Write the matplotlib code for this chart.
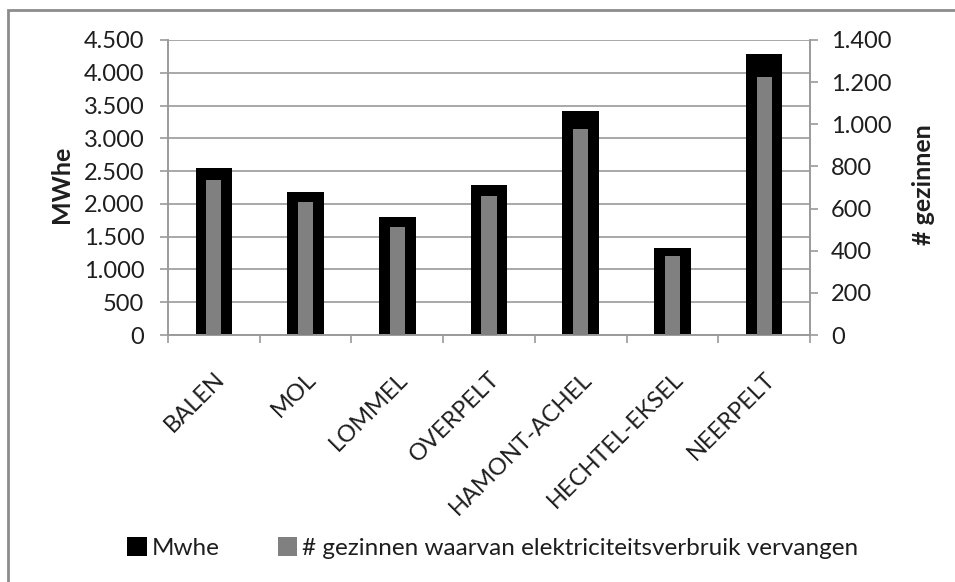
import numpy as np
import matplotlib
matplotlib.use("Agg")
import matplotlib.pyplot as plt
from matplotlib.patches import Rectangle
from matplotlib.ticker import FuncFormatter, MultipleLocator

plt.rcParams['font.family'] = ['Lato', 'DejaVu Sans']

# ── Data ──────────────────────────────────────────────────────────────────────
gemeenten = ['BALEN', 'MOL', 'LOMMEL', 'OVERPELT', 'HAMONT-ACHEL',
             'HECHTEL-EKSEL', 'NEERPELT']
mwhe = [2550, 2175, 1795, 2295, 3415, 1320, 4285]
gezinnen = [735, 630, 512, 661, 978, 376, 1224]

# ── Style ─────────────────────────────────────────────────────────────────────
grid_col = '#9a9a9a'
text_col = '#1e1e1e'
fs = 17


def dotted(v, pos):
    # thousands separator as a dot
    return f'{int(v):,}'.replace(',', '.')


fig = plt.figure(figsize=(9.55, 5.82), dpi=100)
ax = fig.add_axes([168 / 955, 1 - 335 / 582, 642 / 955, 295 / 582])
ax2 = ax.twinx()

x = np.arange(len(gemeenten))
ax.bar(x, mwhe, width=0.40, color='black', zorder=2, label='Mwhe')
ax2.bar(x, gezinnen, width=0.165, color='#808080', zorder=3,
        label='# gezinnen waarvan elektriciteitsverbruik vervangen')

ax.set_xlim(-0.5, len(gemeenten) - 0.5)
ax.set_ylim(0, 4500)
ax2.set_ylim(0, 1400)
ax.yaxis.set_major_locator(MultipleLocator(500))
ax2.yaxis.set_major_locator(MultipleLocator(200))
ax.yaxis.set_major_formatter(FuncFormatter(dotted))
ax2.yaxis.set_major_formatter(FuncFormatter(dotted))

ax.set_axisbelow(True)
ax.grid(axis='y', color=grid_col, linewidth=1.2)

for a in (ax, ax2):
    a.spines['top'].set_visible(False)
    for side in ('left', 'right', 'bottom'):
        a.spines[side].set_color(grid_col)
        a.spines[side].set_linewidth(1.2)

ax.tick_params(axis='y', direction='out', length=6, width=1.2, color=grid_col,
               pad=11, labelsize=fs, labelcolor=text_col)
ax2.tick_params(axis='y', direction='out', length=6, width=1.2, color=grid_col,
                pad=9, labelsize=fs, labelcolor=text_col)

# category labels in the middle, tick marks on the boundaries
ax.set_xticks(x)
ax.set_xticklabels(gemeenten, rotation=45, ha='right', va='top',
                   rotation_mode='anchor', fontsize=fs, color=text_col)
ax.set_xticks(np.arange(len(gemeenten) + 1) - 0.5, minor=True)
ax.tick_params(axis='x', which='major', length=0, pad=24)
ax.tick_params(axis='x', which='minor', direction='out', length=6, width=1.2,
               color=grid_col)

# axis titles, centred at fixed positions left and right of the plot
ax.set_ylabel('MWhe', fontsize=18, fontweight='bold', color=text_col, va='center')
ax2.set_ylabel('# gezinnen', fontsize=18, fontweight='bold', color=text_col,
               va='center')
ax.yaxis.set_label_coords((61 - 168) / 642, 0.51)
ax2.yaxis.set_label_coords((923 - 168) / 642, 0.51)

# legend below the chart
h1, l1 = ax.get_legend_handles_labels()
h2, l2 = ax2.get_legend_handles_labels()
fig.legend(h1 + h2, l1 + l2, loc='center', bbox_to_anchor=(0.516, 1 - 548 / 582),
           ncol=2, frameon=False, fontsize=17.5, handlelength=0.8,
           handleheight=0.8, handletextpad=0.2, columnspacing=2.4,
           labelcolor=text_col)

# chart area border
fig.patches.append(Rectangle((8 / 955, -0.1), 1.2, 1.1 - 9.5 / 582,
                             transform=fig.transFigure, fill=False,
                             edgecolor='#8c8c8c', linewidth=2))

fig.savefig('out.png', dpi=100)
